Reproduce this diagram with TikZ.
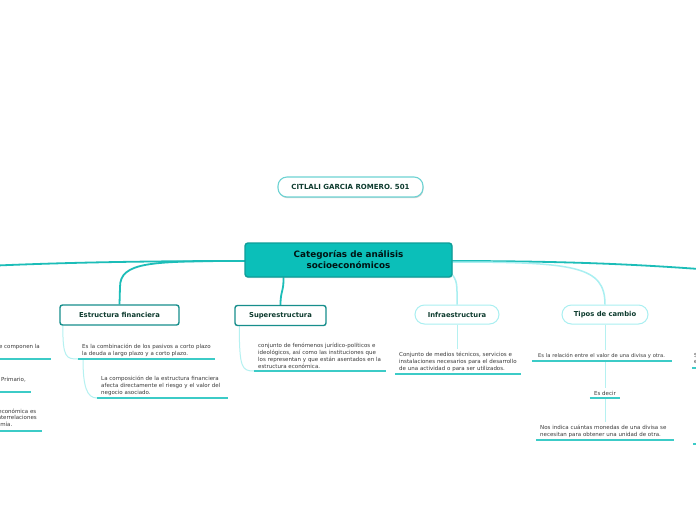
\documentclass[tikz,border=0pt]{standalone}
\usepackage{fontspec}
\setmainfont{DejaVu Sans}
\usetikzlibrary{shadows,calc}
\definecolor{tealmain}{HTML}{1CBDB8}
\definecolor{tealdark}{HTML}{178E8C}
\definecolor{centralfill}{HTML}{0BBFB9}
\definecolor{centralborder}{HTML}{0E9E99}
\definecolor{cyanl}{HTML}{A9EFF1}
\definecolor{cyanthin}{HTML}{B5F1F1}
\definecolor{rootborder}{HTML}{6ED3D3}
\definecolor{titletext}{HTML}{0D3B2E}
\definecolor{desctext}{HTML}{3A3A3A}
\definecolor{ulinecol}{HTML}{3CCBC7}
\pgfdeclarelayer{background}
\pgfsetlayers{background,main}
\begin{document}
\begin{tikzpicture}[x=1pt,y=-1pt,
  tealline/.style={draw=tealmain, line width=1.8},
  lightline/.style={draw=cyanl, line width=1.5},
  thinlight/.style={draw=cyanthin, line width=1},
  uline/.style={draw=ulinecol, line width=1.2},
  rootnode/.style={draw=rootborder, line width=1.1, fill=white, rounded corners=9,
    minimum width=145, minimum height=20, inner sep=0,
    font=\fontsize{7}{8}\selectfont\bfseries, text=titletext,
    drop shadow={shadow xshift=0.5pt, shadow yshift=-1.2pt, fill=black!35, opacity=0.5}},
  centralnode/.style={draw=centralborder, line width=1.4, fill=centralfill, rounded corners=3,
    minimum width=207, minimum height=34, inner sep=0, align=center,
    font=\fontsize{8.8}{11}\selectfont\bfseries, text=black!85!teal,
    drop shadow={shadow xshift=0.5pt, shadow yshift=-1.2pt, fill=black!35, opacity=0.4}},
  topicdark/.style={draw=tealdark, line width=1.4, fill=white, rounded corners=2.5,
    minimum height=20, inner sep=0, font=\fontsize{6.8}{8}\selectfont\bfseries, text=titletext},
  topiclight/.style={draw=cyanl, line width=1, fill=white, rounded corners=9.5,
    minimum height=19, inner sep=0, font=\fontsize{6.8}{8}\selectfont\bfseries, text=titletext},
  desc/.style={font=\fontsize{5.5}{6.8}\selectfont, text=desctext, align=left,
    inner xsep=4, inner ysep=2.5, anchor=south west},
  edgetext/.style={font=\fontsize{5.5}{6.8}\selectfont, text=desctext, inner sep=0}
]
\useasboundingbox (0,0) rectangle (696,520);

% nodes
\node[rootnode] (root) at (350.5,187) {CITLALI GARCIA ROMERO. 501};
\node[centralnode] (c) at (348.5,260) {Categorías de análisis\\ socioeconómicos};

\node[topicdark, minimum width=119] (ef) at (119.5,315) {Estructura financiera};
\node[topicdark, minimum width=91] (se) at (280.5,315.5) {Superestructura};
\node[topiclight, minimum width=84] (inf) at (457,314.5) {Infraestructura};
\node[topiclight, minimum width=86] (tc) at (605,314.5) {Tipos de cambio};

\node[desc, text width=129] (ef1) at (78,359) {Es la combinación de los pasivos a corto plazo\\la deuda a largo plazo y a corto plazo.};
\node[desc, text width=123] (ef2) at (97,398) {La composición de la estructura financiera\\afecta directamente el riesgo y el valor del\\negocio asociado.};
\node[desc, text width=124] (se1) at (254,371) {conjunto de fenómenos jurídico-políticos e\\ideológicos, así como las instituciones que\\los representan y que están asentados en la\\estructura económica.};
\node[desc, text width=118] (in1) at (395,374) {Conjunto de medios técnicos, servicios e\\instalaciones necesarios para el desarrollo\\de una actividad o para ser utilizados.};
\node[desc, text width=134, inner xsep=3, font=\fontsize{5.2}{6.8}\selectfont] (tc1) at (532,361) {\hspace*{3pt}Es la relación entre el valor de una divisa y otra.};
\node[desc, anchor=south, minimum width=30, inner xsep=0, align=center] (tc2) at (605,398) {Es decir};
\node[desc, text width=130] (tc3) at (536,440) {Nos indica cuántas monedas de una divisa se\\necesitan para obtener una unidad de otra.};

% clipped partial content at the picture edges
\begin{scope}
  \clip (0,0) rectangle (696,520);
  \coordinate (la1) at (-30,359); \coordinate (lb1) at (51,359);
  \coordinate (la2) at (-30,392); \coordinate (lb2) at (31,392);
  \coordinate (la3) at (-30,431); \coordinate (lb3) at (42,431);
  \draw[uline] (la1) -- (lb1);
  \draw[uline] (la2) -- (lb2);
  \draw[uline] (la3) -- (lb3);
  \node[edgetext, anchor=base east] (lt1) at (40,348) {que componen la};
  \node[edgetext, anchor=base east] (lt2) at (26,381.5) {Sector Primario,};
  \node[edgetext, anchor=base east] (lt3) at (36.5,413) {estructura económica es};
  \node[edgetext, anchor=base east] (lt4) at (37,419.5) {de interrelaciones};
  \node[edgetext, anchor=base east] (lt5) at (12.5,426) {economía.};
  \coordinate (ra1) at (692,368); \coordinate (rb1) at (720,368);
  \coordinate (ra2) at (693,444); \coordinate (rb2) at (720,444);
  \draw[uline] (ra1) -- (rb1);
  \draw[uline] (ra2) -- (rb2);
  \node[edgetext, anchor=base west] (rt1) at (694,357) {Se refiere};
  \node[edgetext, anchor=base west] (rt2) at (694,363.5) {el};
\end{scope}

% underlines
\draw[uline] (ef1.south west) -- (ef1.south east);
\draw[uline] (ef2.south west) -- (ef2.south east);
\draw[uline] (se1.south west) -- (se1.south east);
\draw[uline] (in1.south west) -- (in1.south east);
\draw[uline] (tc1.south west) -- (tc1.south east);
\draw[uline] (tc2.south west) -- (tc2.south east);
\draw[uline] (tc3.south west) -- (tc3.south east);

\begin{pgfonlayer}{background}
  \fill[white] (0,0) rectangle (696,520);
  \begin{scope}
  \clip (0,0) rectangle (696,520);
  \coordinate (Lend) at (-3,265.5);
  \coordinate (Rend) at (699,269);
  \coordinate (efbend) at (120,287);
  \draw[tealline] ($(c.west)+(2,1)$) .. controls (160,261) and (80,262) .. (Lend);
  \draw[tealline] ($(c.east)+(-2,1)$) .. controls (560,261) and (630,264) .. (Rend);
  \draw[tealline] ($(c.west)+(2,1)$) .. controls (150,261) and (120,262) .. (efbend) -- (ef.north);
  \draw[tealline] ($(c.south)+(-65,-2)$) .. controls (284,292) and (280.5,290) .. (se.north);
  \draw[lightline] ($(c.east)+(-3,12)$) .. controls (458,280) and (457,285) .. (inf.north);
  \draw[lightline] ($(c.east)+(-2,2)$) .. controls (575,262) and (605,266) .. (tc.north);
  % child connectors
  \draw[thinlight] ([xshift=3.5pt]ef.south west) .. controls +(0,32) and +(-12,0) .. (ef1.south west);
  \draw[thinlight] ([xshift=5pt]ef1.south west) .. controls +(0,28) and +(-10,0) .. (ef2.south west);
  \draw[thinlight] ([xshift=5pt]se.south west) .. controls +(0,42) and +(-12,0) .. (se1.south west);
  \draw[thinlight] (inf.south) -- (inf.south |- in1.north);
  \draw[thinlight] (tc.south) -- (tc.south |- tc1.north);
  \draw[thinlight] (tc.south |- tc1.south) -- (tc.south |- tc2.north);
  \draw[thinlight] (tc.south |- tc2.south) -- (tc.south |- tc3.north);
  \end{scope}
\end{pgfonlayer}
\end{tikzpicture}
\end{document}
